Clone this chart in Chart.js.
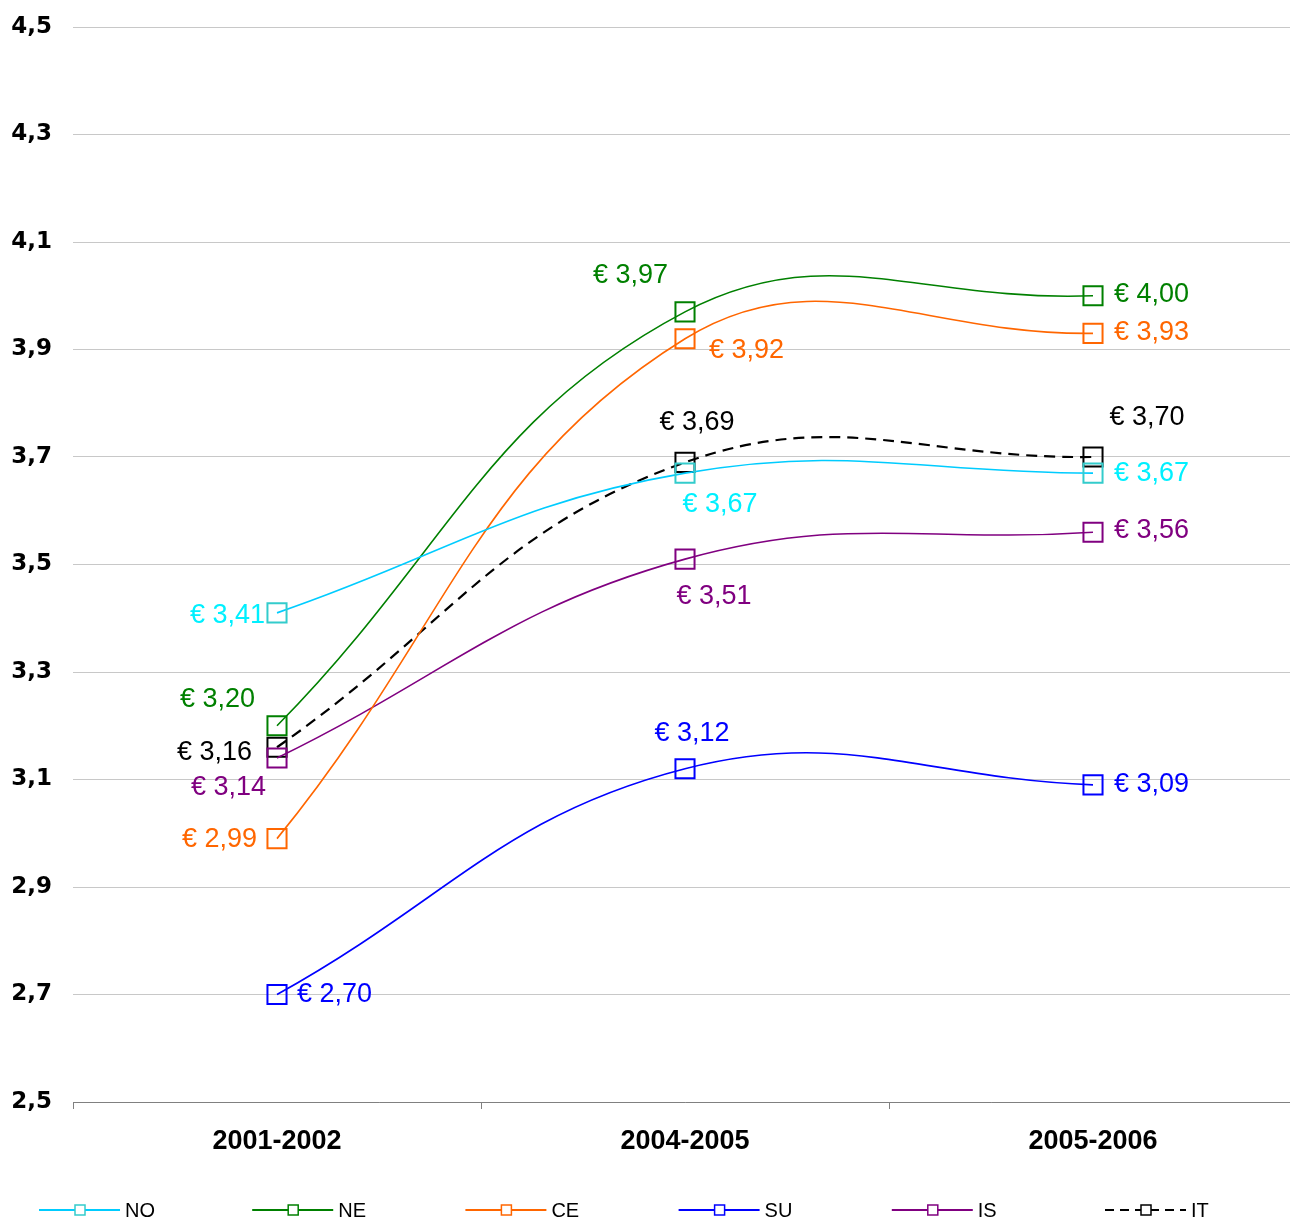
<!DOCTYPE html>
<html>
<head>
<meta charset="utf-8">
<script src="https://cdn.jsdelivr.net/npm/chart.js@4.4.1/dist/chart.umd.min.js"></script>
<style>
  html, body { margin: 0; padding: 0; background: #ffffff; overflow: hidden; }
  #wrap { width: 1297px; height: 1219px; }
</style>
</head>
<body>
<div id="wrap"><canvas id="chart" width="1297" height="1219"></canvas></div>
<script>
// Categories (school years) and average values per area
const periods = ['2001-2002', '2004-2005', '2005-2006'];
const areaNames = ['NO', 'NE', 'CE', 'SU', 'IS', 'IT'];
const valuesNO = [3.41, 3.67, 3.67];
const valuesNE = [3.20, 3.97, 4.00];
const valuesCE = [2.99, 3.92, 3.93];
const valuesSU = [2.70, 3.12, 3.09];
const valuesIS = [3.14, 3.51, 3.56];
const valuesIT = [3.16, 3.69, 3.70];
const yTicks = [2.5, 2.7, 2.9, 3.1, 3.3, 3.5, 3.7, 3.9, 4.1, 4.3, 4.5];

// Series appearance
const seriesStyle = {
  NO: { line: '#00CCFF', marker: '#33CCCC', text: '#00F0FF', width: 1.6, dash: [] },
  NE: { line: '#008000', marker: '#008000', text: '#008000', width: 1.6, dash: [] },
  CE: { line: '#FF6600', marker: '#FF6600', text: '#FF6600', width: 1.6, dash: [] },
  SU: { line: '#0000FF', marker: '#0000FF', text: '#0000FF', width: 1.6, dash: [] },
  IS: { line: '#800080', marker: '#800080', text: '#800080', width: 1.6, dash: [] },
  IT: { line: '#000000', marker: '#000000', text: '#000000', width: 2.2, dash: [11, 7] }
};

// Value label placement relative to each point: [dx, dy, align]
const labelPlacement = {
  NO: [[-12, 3, 'right'], [35, 31, 'center'], [21, 0, 'left']],
  NE: [[-22, -26, 'right'], [-17, -36, 'right'], [21, -1, 'left']],
  CE: [[-20, 1, 'right'], [24, 12, 'left'], [21, -1, 'left']],
  SU: [[20, 0, 'left'], [7, -35, 'center'], [21, 0, 'left']],
  IS: [[-11, 30, 'right'], [29, 37, 'center'], [21, -2, 'left']],
  IT: [[-25, 5, 'right'], [12, -40, 'center'], [54, -39, 'center']]
};

const seriesValues = { NO: valuesNO, NE: valuesNE, CE: valuesCE, SU: valuesSU, IS: valuesIS, IT: valuesIT };

const fmt = v => v.toFixed(2).replace('.', ',');

const datasets = areaNames.map(name => {
  const s = seriesStyle[name];
  return {
    label: name,
    data: seriesValues[name],
    borderColor: s.line,
    borderWidth: s.width,
    borderDash: s.dash,
    backgroundColor: 'transparent',
    pointStyle: 'rect',
    pointRadius: 13.5,
    pointBorderWidth: 2,
    pointBorderColor: s.marker,
    pointBackgroundColor: 'transparent',
    tension: 0.42,
    fill: false,
    clip: false
  };
});

// Draws "€ x,xx" next to every point
const valueLabels = {
  id: 'valueLabels',
  afterDatasetsDraw(chart) {
    const ctx = chart.ctx;
    ctx.save();
    ctx.font = '27px "Liberation Sans", Arial, sans-serif';
    ctx.textBaseline = 'middle';
    chart.data.datasets.forEach((ds, di) => {
      const meta = chart.getDatasetMeta(di);
      const place = labelPlacement[ds.label];
      meta.data.forEach((pt, i) => {
        const [dx, dy, align] = place[i];
        ctx.fillStyle = seriesStyle[ds.label].text;
        ctx.textAlign = align;
        ctx.fillText('€ ' + fmt(ds.data[i]), pt.x + dx, pt.y + dy);
      });
    });
    ctx.restore();
  }
};

// Legend row at the bottom: line sample with a small marker, then the name
const bottomLegend = {
  id: 'bottomLegend',
  afterDraw(chart) {
    const ctx = chart.ctx;
    const y = 1210;
    ctx.save();
    chart.data.datasets.forEach((ds, i) => {
      const s = seriesStyle[ds.label];
      const x0 = 39 + i * 213.2;
      ctx.strokeStyle = s.line;
      ctx.lineWidth = 2;
      ctx.setLineDash(s.dash.length ? [9, 6] : []);
      ctx.beginPath();
      ctx.moveTo(x0, y);
      ctx.lineTo(x0 + 81, y);
      ctx.stroke();
      ctx.setLineDash([]);
      ctx.fillStyle = '#ffffff';
      ctx.fillRect(x0 + 36, y - 5, 10, 10);
      ctx.strokeStyle = s.marker;
      ctx.lineWidth = 1.5;
      ctx.strokeRect(x0 + 36, y - 5, 10, 10);
      ctx.fillStyle = '#000000';
      ctx.font = '20px "Liberation Sans", Arial, sans-serif';
      ctx.textAlign = 'left';
      ctx.textBaseline = 'middle';
      ctx.fillText(ds.label, x0 + 86, y + 1);
    });
    ctx.restore();
  }
};

new Chart(document.getElementById('chart'), {
  type: 'line',
  data: { labels: periods, datasets },
  options: {
    responsive: false,
    animation: false,
    devicePixelRatio: 1,
    layout: { autoPadding: false, padding: { top: 27, right: 0, left: 0, bottom: 0 } },
    plugins: {
      legend: { display: false },
      tooltip: { enabled: false }
    },
    scales: {
      x: {
        type: 'category',
        offset: true,
        grid: {
          offset: true,
          drawOnChartArea: false,
          drawTicks: true,
          tickLength: 7,
          color: '#808080',
          lineWidth: 1
        },
        border: { display: true, color: '#808080', width: 1 },
        ticks: {
          color: '#000000',
          padding: 16,
          font: { family: '"Liberation Sans", Arial, sans-serif', size: 27, weight: 'bold' },
          maxRotation: 0
        },
        afterFit(scale) { scale.height = 117; }
      },
      y: {
        min: 2.5,
        max: 4.5,
        afterBuildTicks(scale) { scale.ticks = yTicks.map(v => ({ value: v })); },
        grid: {
          drawTicks: true,
          tickLength: 21,
          tickColor: 'rgba(0,0,0,0)',
          color: '#C8C8C8',
          lineWidth: 1
        },
        border: { display: false },
        ticks: {
          color: '#000000',
          padding: 0,
          font: { family: '"DejaVu Sans", sans-serif', size: 23, weight: 'bold' },
          callback: v => Number(v).toFixed(1).replace('.', ',')
        },
        afterFit(scale) { scale.width = 73; }
      }
    }
  },
  plugins: [valueLabels, bottomLegend]
});
</script>
</body>
</html>
